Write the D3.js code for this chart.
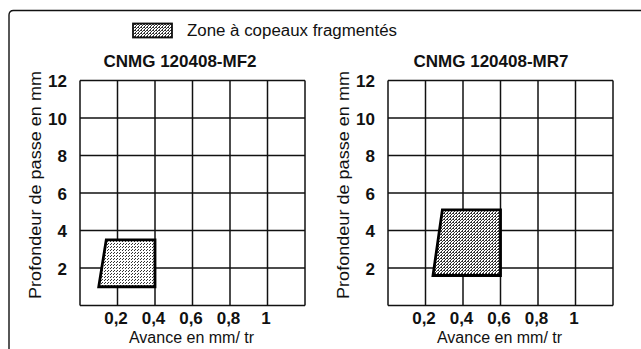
<!DOCTYPE html>
<html>
<head>
<meta charset="utf-8">
<script src="https://cdn.jsdelivr.net/npm/d3@7"></script>
<style>
  html, body { margin: 0; padding: 0; background: #fff; }
  svg { display: block; font-family: "Liberation Sans", Arial, sans-serif; }
</style>
</head>
<body>
<script>
// Chip-breaking zones for two CNMG insert geometries
const panelTitles = ["CNMG 120408-MF2", "CNMG 120408-MR7"];
const xTickValues = [0.2, 0.4, 0.6, 0.8, 1];
const xTickLabels = ["0,2", "0,4", "0,6", "0,8", "1"];
const xGridValues = [0, 0.2, 0.4, 0.6, 0.8, 1, 1.2];
const yTickValues = [2, 4, 6, 8, 10, 12];
const yGridValues = [0, 2, 4, 6, 8, 10, 12];
// zone corners: [feed mm/rev, depth of cut mm]
const zoneMF2 = [[0.10, 1.0], [0.14, 3.5], [0.40, 3.5], [0.40, 1.0]];
const zoneMR7 = [[0.24, 1.6], [0.29, 5.1], [0.60, 5.1], [0.60, 1.6]];
const legendLabel = "Zone à copeaux fragmentés";
const xAxisTitle = "Avance en mm/ tr";
const yAxisTitle = "Profondeur de passe en mm";

const W = 641, H = 349;
const svg = d3.select("body").append("svg").attr("width", W).attr("height", H);
svg.append("rect").attr("width", W).attr("height", H).attr("fill", "#fff");

const defs = svg.append("defs");
function stipple(id, size, dots, color) {
  const p = defs.append("pattern").attr("id", id).attr("patternUnits", "userSpaceOnUse")
    .attr("width", size).attr("height", size);
  p.append("rect").attr("width", size).attr("height", size).attr("fill", "#fff");
  dots.forEach(([x, y]) => p.append("rect").attr("x", x).attr("y", y)
    .attr("width", 1).attr("height", 1).attr("fill", color));
}
stipple("dotsLight", 3, [[0, 0], [2, 1]], "#333");
stipple("dotsDense", 3, [[0, 0], [2, 0], [1, 1], [0, 2]], "#333");

// outer frame: top and left edges with rounded corner
svg.append("path")
  .attr("d", `M9,${H} L9,15 Q9,10.5 13.5,10.5 L${W},10.5`)
  .attr("fill", "none").attr("stroke", "#111").attr("stroke-width", 1.4);

// legend
svg.append("rect").attr("x", 133).attr("y", 23.5).attr("width", 39).attr("height", 14)
  .attr("fill", "url(#dotsDense)").attr("stroke", "#111").attr("stroke-width", 1.8);
svg.append("text").attr("x", 187).attr("y", 35.5).attr("font-size", 16).attr("fill", "#111")
  .attr("textLength", 210).attr("lengthAdjust", "spacingAndGlyphs")
  .text(legendLabel);

const panels = [
  { title: panelTitles[0], zone: zoneMF2, fill: "url(#dotsLight)", left: 80, titleX: 180, ylabX: 41 },
  { title: panelTitles[1], zone: zoneMR7, fill: "url(#dotsDense)", left: 388, titleX: 491, ylabX: 349 }
];

const plotTop = 80.5, plotW = 225, plotH = 225;

panels.forEach(p => {
  const x = d3.scaleLinear().domain([0, 1.2]).range([p.left, p.left + plotW]);
  const y = d3.scaleLinear().domain([0, 12]).range([plotTop + plotH, plotTop]);
  const g = svg.append("g");

  // grid
  g.selectAll("line.v").data(xGridValues).join("line")
    .attr("x1", d => x(d)).attr("x2", d => x(d))
    .attr("y1", y(0)).attr("y2", y(12))
    .attr("stroke", "#111").attr("stroke-width", 1.5);
  g.selectAll("line.h").data(yGridValues).join("line")
    .attr("y1", d => y(d)).attr("y2", d => y(d))
    .attr("x1", x(0)).attr("x2", x(1.2))
    .attr("stroke", "#111").attr("stroke-width", 1.5);

  // zone
  g.append("path")
    .datum(p.zone)
    .attr("d", d3.line().x(d => x(d[0])).y(d => y(d[1])).curve(d3.curveLinearClosed))
    .attr("fill", p.fill).attr("stroke", "#000").attr("stroke-width", 2.8)
    .attr("stroke-linejoin", "miter");

  // tick labels via d3 axes
  const xAxis = d3.axisBottom(x).tickValues(xTickValues)
    .tickFormat((d, i) => xTickLabels[i]).tickSize(0).tickPadding(0);
  const xa = g.append("g").attr("transform", `translate(-2,${y(0) + 18})`).call(xAxis);
  xa.select(".domain").remove();
  xa.selectAll("text").attr("font-size", 17).attr("font-weight", "bold")
    .attr("fill", "#111").attr("font-family", "Liberation Sans, Arial, sans-serif")
    .attr("dy", 0).attr("y", 0);

  const yAxis = d3.axisLeft(y).tickValues(yTickValues).tickSize(0).tickPadding(0);
  const ya = g.append("g").attr("transform", `translate(${x(0) - 13},0)`).call(yAxis);
  ya.select(".domain").remove();
  ya.selectAll("text").attr("font-size", 17).attr("font-weight", "bold")
    .attr("fill", "#111").attr("font-family", "Liberation Sans, Arial, sans-serif")
    .attr("dy", "0.36em");

  // titles
  g.append("text").attr("x", p.titleX).attr("y", 67).attr("text-anchor", "middle")
    .attr("font-size", 17).attr("font-weight", "bold").attr("fill", "#111")
    .text(p.title);
  g.append("text").attr("x", x(0.6) - 1).attr("y", 342.5).attr("text-anchor", "middle")
    .attr("font-size", 16).attr("fill", "#111").text(xAxisTitle);
  g.append("text").attr("transform", `translate(${p.ylabX},${185}) rotate(-90)`)
    .attr("text-anchor", "middle").attr("font-size", 16).attr("fill", "#111")
    .attr("textLength", 228).attr("lengthAdjust", "spacingAndGlyphs")
    .text(yAxisTitle);
});
</script>
</body>
</html>
